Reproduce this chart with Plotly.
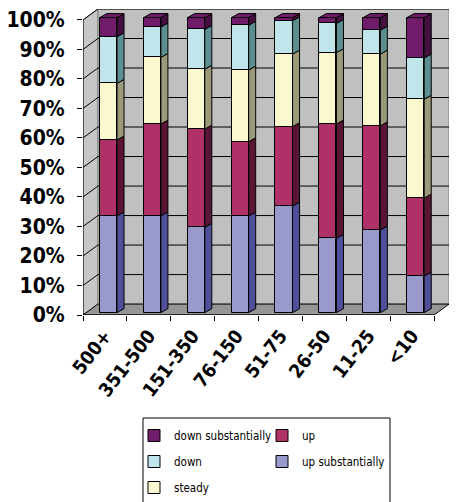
import plotly.graph_objects as go

categories = ["500+", "351-500", "151-350", "76-150", "51-75", "26-50", "11-25", "<10"]
up_substantially = [32.8, 32.8, 28.9, 32.7, 36.1, 25.2, 28.0, 12.4]
up = [25.7, 31.1, 33.3, 25.2, 26.9, 38.7, 35.3, 26.4]
steady = [19.2, 22.6, 20.3, 24.3, 24.6, 24.2, 24.3, 33.5]
down = [15.8, 10.3, 13.5, 15.2, 11.3, 9.9, 8.1, 14.0]
down_substantially = [6.5, 3.2, 4.0, 2.6, 1.1, 2.0, 4.3, 13.7]
y_ticks = [0, 10, 20, 30, 40, 50, 60, 70, 80, 90, 100]
y_tick_labels = [f"{v}%" for v in y_ticks]

# series: name, values, front colour, side colour, legend id, legend rank
series = [
    ("up substantially", up_substantially, "#9999cc", "#50509a", "legend2", 2),
    ("up", up, "#b03068", "#5a1535", "legend2", 1),
    ("steady", steady, "#fbf8d0", "#9a9a7a", "legend", 3),
    ("down", down, "#c0e6ec", "#5c8f8f", "legend", 2),
    ("down substantially", down_substantially, "#701c6a", "#45103f", "legend", 1),
]

n = len(categories)
# 3D geometry (data units)
WX, WY = 0.34, 3.7      # wall depth offset
BX, BW = 0.08, 0.39     # bar offset / width
SX, SY = 0.16, 1.35     # bar depth
BY = 0.8                # bar base lift

FONT = "DejaVu Sans Condensed"
fig = go.Figure()

shapes = []
x_left, x_right = -0.5, n - 0.5
# left wall
shapes.append(dict(type="path", xref="x", yref="y", layer="below",
                   path=f"M {x_left},0 L {x_left+WX},{WY} L {x_left+WX},{100+WY} L {x_left},100 Z",
                   fillcolor="#c6c6c6", line=dict(color="#808080", width=1)))
# back wall
shapes.append(dict(type="rect", xref="x", yref="y", layer="below",
                   x0=x_left+WX, y0=WY, x1=x_right+WX, y1=100+WY,
                   fillcolor="#c0c0c0", line=dict(color="#808080", width=1)))
# floor
shapes.append(dict(type="path", xref="x", yref="y", layer="below",
                   path=f"M {x_left},0 L {x_right},0 L {x_right+WX},{WY} L {x_left+WX},{WY} Z",
                   fillcolor="#969696", line=dict(color="#000000", width=1)))
for v in y_ticks[1:]:
    shapes.append(dict(type="line", xref="x", yref="y", layer="below",
                       x0=x_left+WX, y0=v+WY, x1=x_right+WX, y1=v+WY,
                       line=dict(color="#000000", width=1)))
    shapes.append(dict(type="line", xref="x", yref="y", layer="below",
                       x0=x_left, y0=v, x1=x_left+WX, y1=v+WY,
                       line=dict(color="#000000", width=1)))
# front axis lines
shapes.append(dict(type="line", xref="x", yref="y", x0=x_left, y0=0, x1=x_left, y1=100,
                   line=dict(color="#000000", width=1)))
shapes.append(dict(type="line", xref="x", yref="y", x0=x_left, y0=0, x1=x_right, y1=0,
                   line=dict(color="#000000", width=1)))
# legend box
shapes.append(dict(type="rect", xref="paper", yref="paper", layer="below",
                   x0=(143-83)/366, x1=(390-83)/366, y0=(315-418)/306, y1=(315-520)/306,
                   fillcolor="#ffffff", line=dict(color="#000000", width=1)))

cum = [BY] * n
sides = []
for name, vals, front, side, leg, rank in series:
    bases = cum[:]
    fig.add_trace(go.Bar(
        x=[i + BX for i in range(n)], y=vals, base=bases, width=BW, name=name,
        marker=dict(color=front, line=dict(color="#000000", width=1)),
        legend=leg, legendrank=rank, legendgroup=name,
    ))
    xs, ys = [], []
    for i in range(n):
        xr = i + BX + BW / 2
        y0, y1 = bases[i], bases[i] + vals[i]
        xs += [xr, xr + SX, xr + SX, xr, xr, None]
        ys += [y0, y0 + SY, y1 + SY, y1, y0, None]
    sides.append((xs, ys, side))
    cum = [c + v for c, v in zip(cum, vals)]

for xs, ys, side in sides:
    fig.add_trace(go.Scatter(x=xs, y=ys, mode="lines", fill="toself", fillcolor=side,
                             line=dict(color="#000000", width=1), showlegend=False,
                             hoverinfo="skip"))
# top faces
top_front = series[-1][2]
xs, ys = [], []
for i in range(n):
    xl = i + BX - BW / 2
    xr = i + BX + BW / 2
    yt = cum[i]
    xs += [xl, xr, xr + SX, xl + SX, xl, None]
    ys += [yt, yt, yt + SY, yt + SY, yt, None]
fig.add_trace(go.Scatter(x=xs, y=ys, mode="lines", fill="toself", fillcolor=top_front,
                         line=dict(color="#000000", width=1), showlegend=False,
                         hoverinfo="skip"))

LEGFONT = dict(family="DejaVu Sans Condensed", size=11.5, color="#000000")
fig.update_layout(
    width=457, height=502,
    margin=dict(l=83, r=8, t=9, b=187, autoexpand=False),
    paper_bgcolor="#ffffff", plot_bgcolor="rgba(0,0,0,0)",
    barmode="overlay", bargap=0,
    shapes=shapes,
    showlegend=True,
    xaxis=dict(range=[x_left, x_right + WX], tickmode="array",
               tickvals=list(range(n)), ticktext=categories, tickangle=-52,
               ticks="", showgrid=False, zeroline=False, showline=False,
               ticklabelstandoff=5, automargin=False,
               tickfont=dict(family=FONT, size=19, color="#000000", weight="bold"),
               minor=dict(tickmode="array", tickvals=[i - 0.5 for i in range(n + 1)],
                          ticks="outside", ticklen=5, tickcolor="#000000", showgrid=False)),
    yaxis=dict(range=[0, 100 + WY], tickmode="array", tickvals=y_ticks,
               ticktext=y_tick_labels, ticks="outside", ticklen=5, tickcolor="#000000",
               showgrid=False, zeroline=False, showline=False, ticklabelstandoff=8,
               automargin=False,
               tickfont=dict(family=FONT, size=21, color="#000000", weight="bold")),
    legend=dict(x=(134-83)/366, y=(315-421)/306, xanchor="left", yanchor="top",
                orientation="v", bgcolor="rgba(0,0,0,0)", tracegroupgap=7,
                font=LEGFONT),
    legend2=dict(x=(262-83)/366, y=(315-421)/306, xanchor="left", yanchor="top",
                 orientation="v", bgcolor="rgba(0,0,0,0)", tracegroupgap=7,
                 font=LEGFONT),
)

fig.write_html("out.html")
